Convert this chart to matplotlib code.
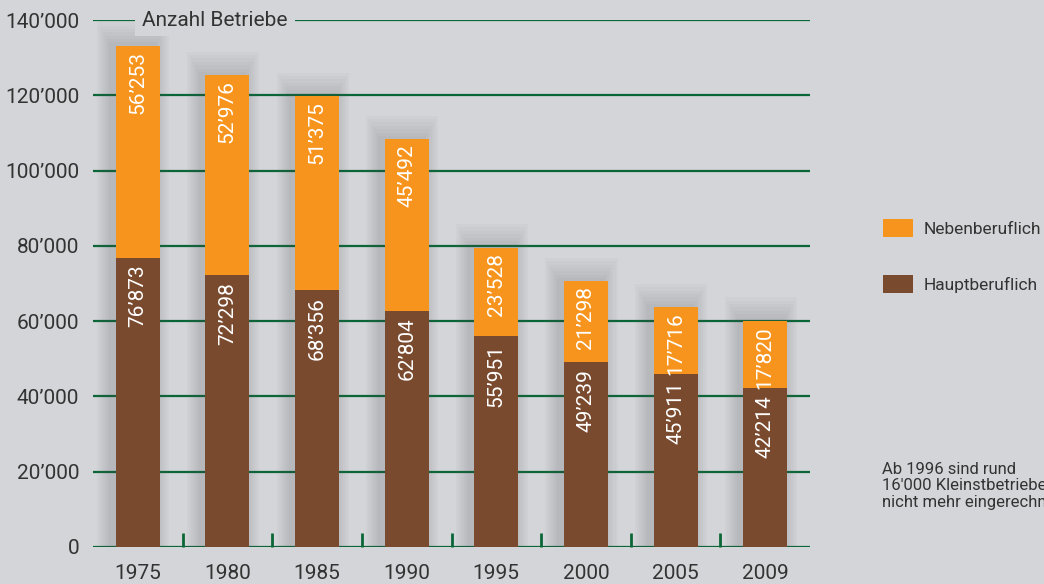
"""
Anzahl Betriebe - stacked bar chart (Haupt- / Nebenberuflich)
"""

import matplotlib.pyplot as plt
from matplotlib.patches import Patch
import numpy as np

plt.rcParams['font.family'] = ['Roboto', 'DejaVu Sans']

# Data
years = ['1975', '1980', '1985', '1990', '1995', '2000', '2005', '2009']
hauptberuflich = [76873, 72298, 68356, 62804, 55951, 49239, 45911, 42214]
nebenberuflich = [56253, 52976, 51375, 45492, 23528, 21298, 17716, 17820]
y_ticks = [0, 20000, 40000, 60000, 80000, 100000, 120000, 140000]

BG = '#d3d5d8'
GREEN = '#0b6637'
ORANGE = '#f7941d'
BROWN = '#7a4a2e'
TEXT = '#333333'


def fmt(v):
    return f'{v:,}'.replace(',', '\u2019')


fig = plt.figure(figsize=(10.44, 5.84), dpi=100, facecolor=BG)
ax = fig.add_axes([93 / 1044, 1 - 547 / 584, (810 - 93) / 1044, (547 - 20) / 584])
ax.set_facecolor(BG)

x = np.arange(len(years))
width = 0.49
haupt = np.array(hauptberuflich)
neben = np.array(nebenberuflich)
total = haupt + neben

# Soft shadow behind the bars
for k in range(7):
    grow = 0.045 * (k + 1)
    ax.bar(x - 0.05, total + 900 * (k + 1), width=width + grow,
           color='#50545a', alpha=0.03, zorder=1, linewidth=0)

# Gridlines
for t in y_ticks:
    ax.axhline(t, color=GREEN, linewidth=1.6, zorder=0.5)

ax.bar(x, haupt, width=width, color=BROWN, zorder=3, linewidth=0)
ax.bar(x, neben, width=width, bottom=haupt, color=ORANGE, zorder=3, linewidth=0)

# Value labels inside the bars
for xi, h, n in zip(x, haupt, neben):
    ax.text(xi, h - 1900, fmt(h), rotation=90, ha='center', va='top',
            color='white', fontsize=15, zorder=4)
    ax.text(xi, h + n - 1300, fmt(n), rotation=90, ha='center', va='top',
            color='white', fontsize=15, zorder=4)

ax.set_xlim(-0.5, 7.5)
ax.set_ylim(0, 140000)
ax.set_xticks(x)
ax.set_xticklabels(years)
ax.set_xticks(x[:-1] + 0.5, minor=True)
ax.set_yticks(y_ticks)
ax.set_yticklabels([fmt(t) if t else '0' for t in y_ticks])

ax.tick_params(axis='x', which='major', length=0, pad=12, labelsize=15, labelcolor=TEXT)
ax.tick_params(axis='x', which='minor', direction='in', length=10, width=2,
               color=GREEN, bottom=True)
ax.tick_params(axis='y', length=0, pad=10, labelsize=15, labelcolor=TEXT)
for s in ax.spines.values():
    s.set_visible(False)

ax.text(0.05, 140000, 'Anzahl Betriebe', ha='left', va='center', fontsize=15,
        color=TEXT, zorder=5, clip_on=False,
        bbox=dict(facecolor=BG, edgecolor='none', pad=5))

# Legend
handles = [Patch(facecolor=ORANGE, label='Nebenberuflich'),
           Patch(facecolor=BROWN, label='Hauptberuflich')]
fig.legend(handles=handles, loc='upper left', bbox_to_anchor=(883 / 1044, 1 - 219 / 584),
           frameon=False, fontsize=12.5, handlelength=1.75, handleheight=1.2,
           handletextpad=0.6, labelspacing=2.2, labelcolor=TEXT,
           borderpad=0, borderaxespad=0)

fig.text(882 / 1044, 1 - 486 / 584,
         "Ab 1996 sind rund\n16'000 Kleinstbetriebe\nnicht mehr eingerechnet",
         ha='left', va='center', fontsize=12, color=TEXT, linespacing=1.15)

fig.savefig('out.png', dpi=100, facecolor=BG)
